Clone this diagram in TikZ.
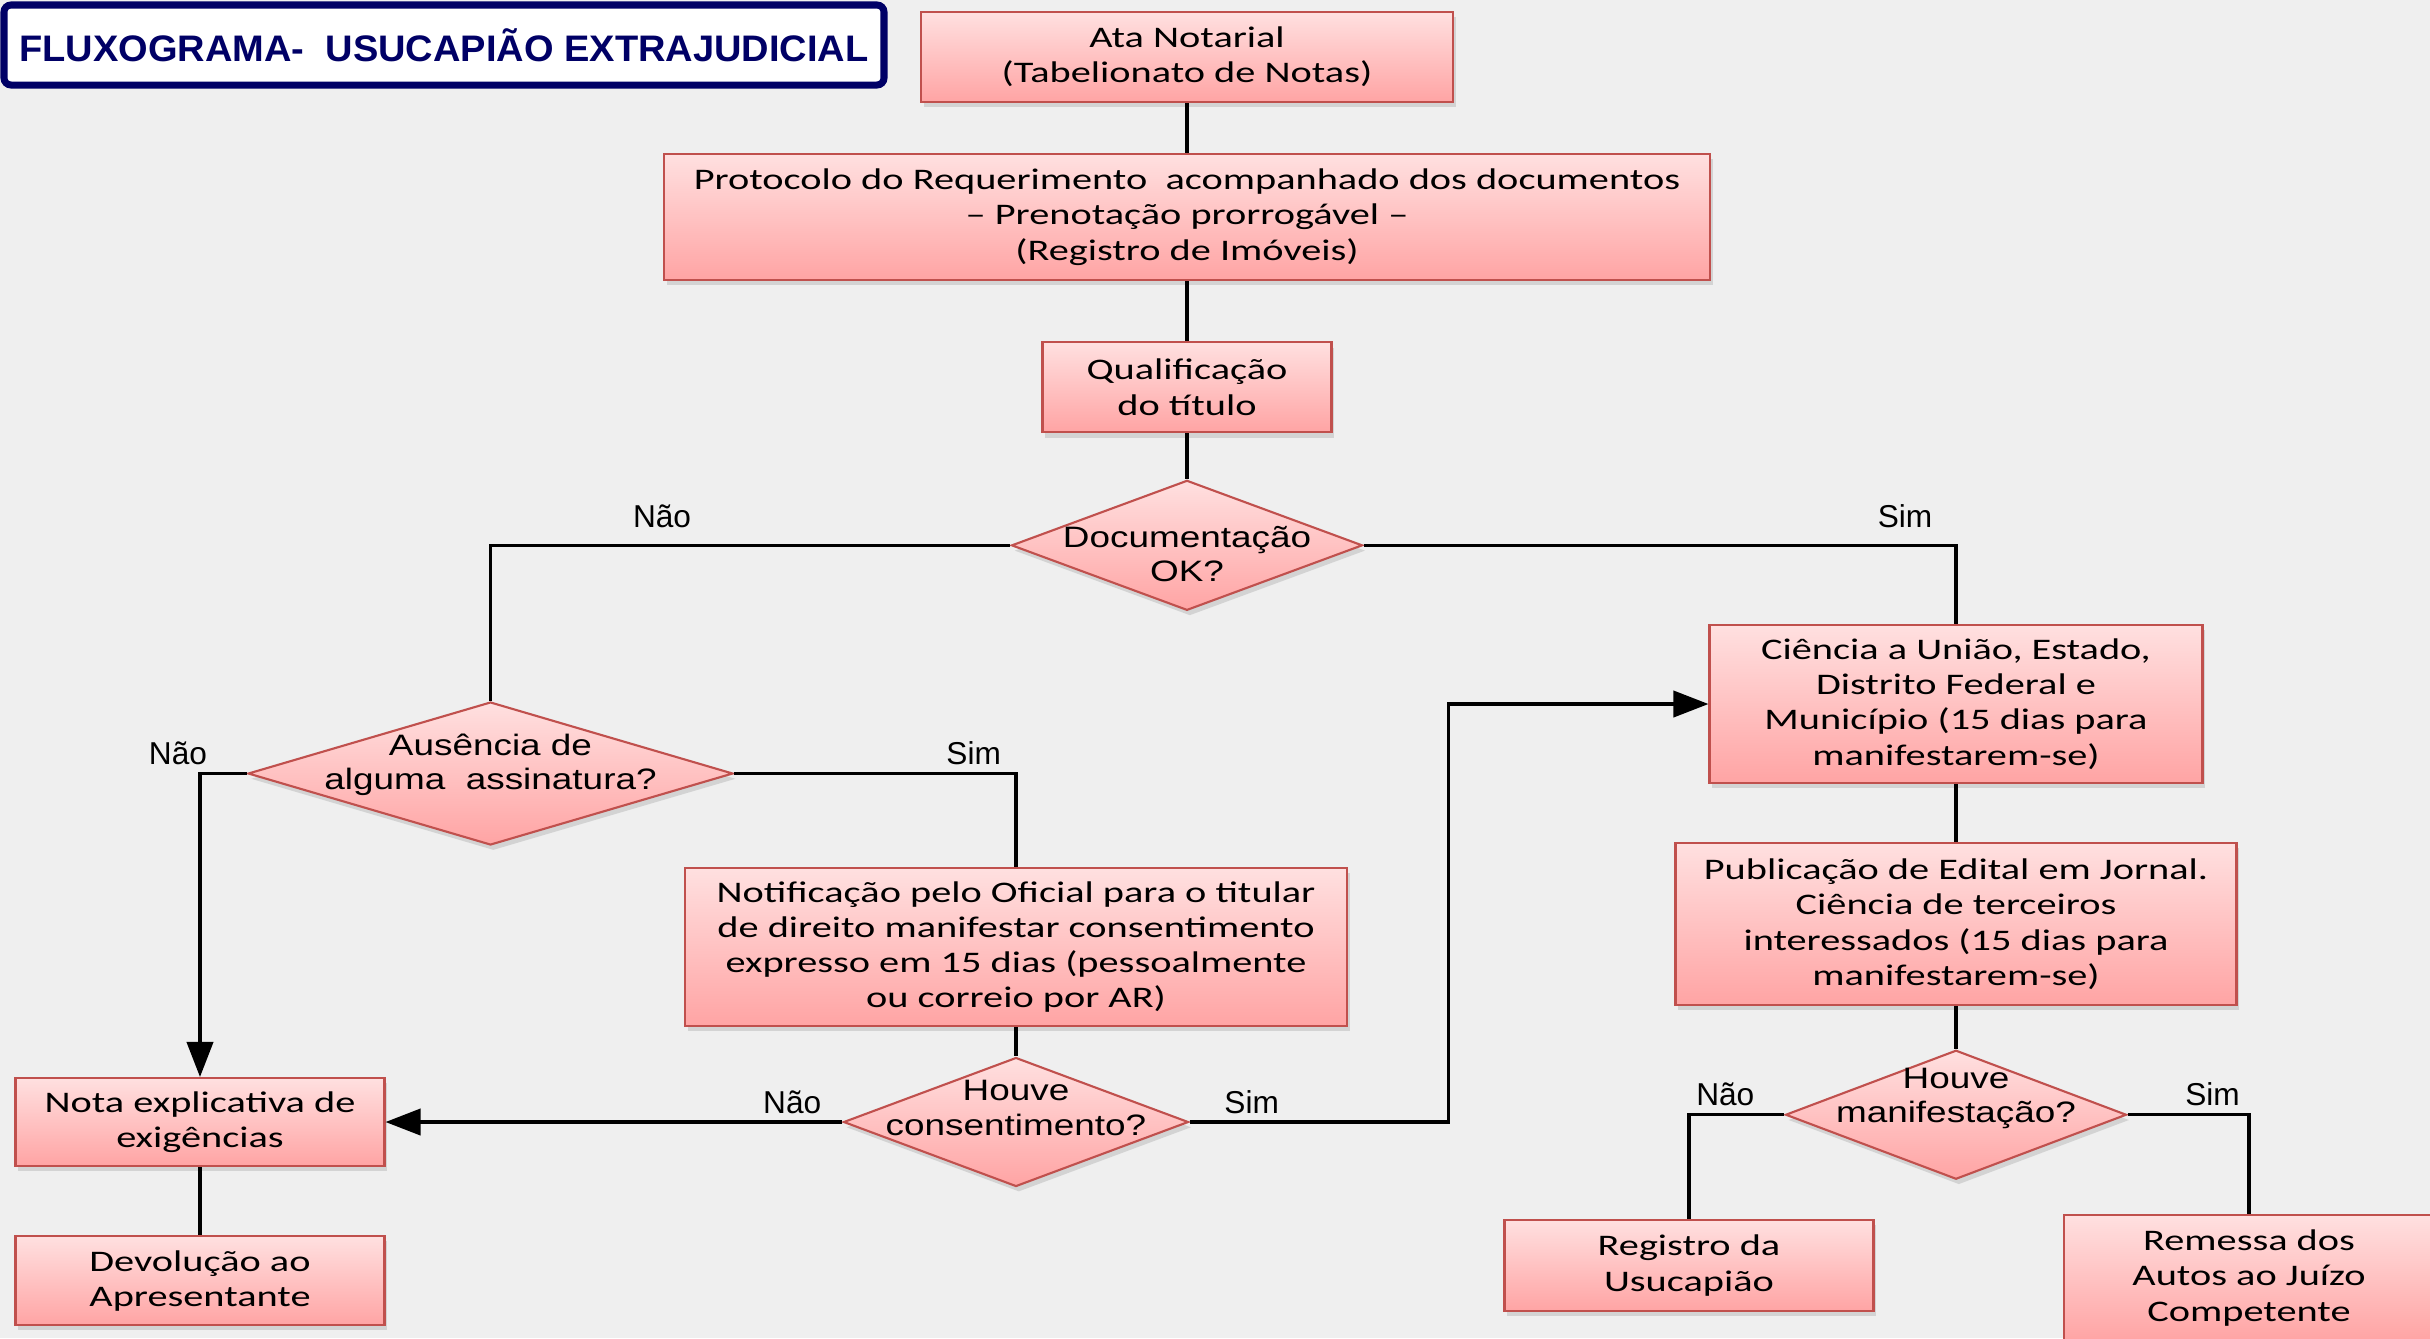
\documentclass[tikz,border=0pt]{standalone}
\usepackage{fontspec}
\setmainfont{Carlito}[FakeStretch=1.35]
\newfontfamily\diafont{Liberation Sans}[FakeStretch=1.25]
\newfontfamily\lblfont{Liberation Sans}
\newfontfamily\ttlfont{Liberation Sans}[FakeStretch=1.03]
\usepackage{xcolor}
\usepackage{tikz}
\usetikzlibrary{shapes.geometric, arrows.meta, positioning, shadows}
\definecolor{pagegray}{RGB}{239, 239, 239}
\definecolor{boxtop}{RGB}{255, 224, 224}
\definecolor{boxbot}{RGB}{255, 164, 164}
\definecolor{boxline}{RGB}{192, 80, 77}
\definecolor{titlenavy}{RGB}{0, 0, 102}

\begin{document}
\begin{tikzpicture}[
    node distance=0.5cm,
    stepbox/.style={rectangle, draw=boxline, line width=0.6pt, top color=boxtop, bottom color=boxbot, align=center, inner sep=2pt, font=\fontsize{8.5}{10}\selectfont, drop shadow={shadow xshift=0.8pt, shadow yshift=-1.5pt, opacity=0.25}},
    decision/.style={diamond, draw=boxline, line width=0.6pt, top color=boxtop, bottom color=boxbot, inner sep=0pt, drop shadow={shadow xshift=0.8pt, shadow yshift=-1.5pt, opacity=0.25}},
    dtext/.style={align=center, inner sep=0pt, font=\diafont\fontsize{8.4}{9.7}\selectfont},
    titlebox/.style={rectangle, draw=titlenavy, line width=2pt, fill=white, rounded corners=2pt, text=titlenavy, font=\ttlfont\bfseries\fontsize{10.5}{12}\selectfont},
    lbl/.style={above, inner sep=2pt, font=\lblfont\fontsize{9}{10}\selectfont},
    conn/.style={line width=0.9pt},
    arr/.style={conn, -{Triangle[length=10pt, width=7.5pt]}}
  ]
  \path[use as bounding box, fill=pagegray] (0,0) rectangle (24.3,-13.38);

  \node[titlebox, minimum width=8.8cm, minimum height=0.8cm] (ttl) at (4.44,-0.45) {FLUXOGRAMA-~ USUCAPIÃO EXTRAJUDICIAL};

  % coluna central
  \node[stepbox, minimum width=5.32cm, minimum height=0.9cm] (ata) at (11.87,-0.57) {Ata Notarial\\(Tabelionato de Notas)};
  \node[stepbox, minimum width=10.46cm, minimum height=1.26cm, below=0.5cm of ata] (prot) {Protocolo do Requerimento~ acompanhado dos documentos\\– Prenotação prorrogável –\\(Registro de Imóveis)};
  \node[stepbox, minimum width=2.89cm, minimum height=0.9cm, below=0.6cm of prot] (qual) {Qualificação\\do título};
  \node[decision, minimum width=3.51cm, minimum height=1.3cm, below=0.46cm of qual, label={[dtext, yshift=-0.09cm]center:Documentação\\OK?}] (doc) {};

  % ramo Não
  \node[decision, minimum width=4.85cm, minimum height=1.43cm, label={[dtext, yshift=0.09cm]center:Ausência de\\alguma~ assinatura?}] (aus) at (4.905,-7.735) {};
  \node[stepbox, minimum width=6.62cm, minimum height=1.58cm] (notif) at (10.16,-9.47) {Notificação pelo Oficial para o titular\\de direito manifestar consentimento\\expresso em 15 dias (pessoalmente\\ou correio por AR)};
  \node[decision, minimum width=3.45cm, minimum height=1.29cm, label={[dtext, yshift=0.14cm]center:Houve\\consentimento?}] (cons) at (10.16,-11.22) {};
  \node[stepbox, minimum width=3.69cm, minimum height=0.88cm] (nota) at (2.0,-11.22) {Nota explicativa de\\exigências};
  \node[stepbox, minimum width=3.69cm, minimum height=0.89cm, below=0.68cm of nota] (devol) {Devolução ao\\Apresentante};

  % ramo Sim
  \node[stepbox, minimum width=4.93cm, minimum height=1.58cm] (cienc) at (19.56,-7.04) {Ciência a União, Estado,\\Distrito Federal e\\Município (15 dias para\\manifestarem-se)};
  \node[stepbox, minimum width=5.61cm, minimum height=1.62cm, below=0.58cm of cienc] (pub) {Publicação de Edital em Jornal.\\Ciência de terceiros\\interessados (15 dias para\\manifestarem-se)};
  \node[decision, minimum width=3.41cm, minimum height=1.29cm, below=0.43cm of pub, label={[dtext, yshift=0.16cm]center:Houve\\manifestação?}] (manif) {};
  \node[stepbox, minimum width=3.69cm, minimum height=0.91cm] (reg) at (16.89,-12.655) {Registro da\\Usucapião};
  \node[stepbox, minimum width=3.7cm, minimum height=1.26cm] (rem) at (22.49,-12.78) {Remessa dos\\Autos ao Juízo\\Competente};

  \draw[conn] (ata) -- (prot);
  \draw[conn] (prot) -- (qual);
  \draw[conn] (qual) -- (doc);
  \draw[conn] (doc.west) -| node[lbl, pos=0.335, yshift=0.09cm] {Não} (aus.north);
  \draw[conn] (doc.east) -| node[lbl, pos=0.457, yshift=0.09cm] {Sim} (cienc.north);
  \draw[arr] (aus.west) -| node[lbl, pos=0.5, xshift=-0.22cm] {Não} (nota.north);
  \draw[conn] (aus.east) -| node[lbl, pos=0.425] {Sim} (notif.north);
  \draw[conn] (notif) -- (cons);
  \draw[arr] (cons.west) -- node[lbl, pos=0.11] {Não} (nota.east);
  \draw[arr] (cons.east) -- node[lbl, pos=0.24] {Sim} ++(2.59,0) |- (cienc.west);
  \draw[conn] (nota) -- (devol);
  \draw[conn] (cienc) -- (pub);
  \draw[conn] (pub) -- (manif);
  \draw[conn] (manif.west) -| node[lbl, pos=0.31] {Não} (reg.north);
  \draw[conn] (manif.east) -| node[lbl, pos=0.35] {Sim} (rem.north);
\end{tikzpicture}
\end{document}
